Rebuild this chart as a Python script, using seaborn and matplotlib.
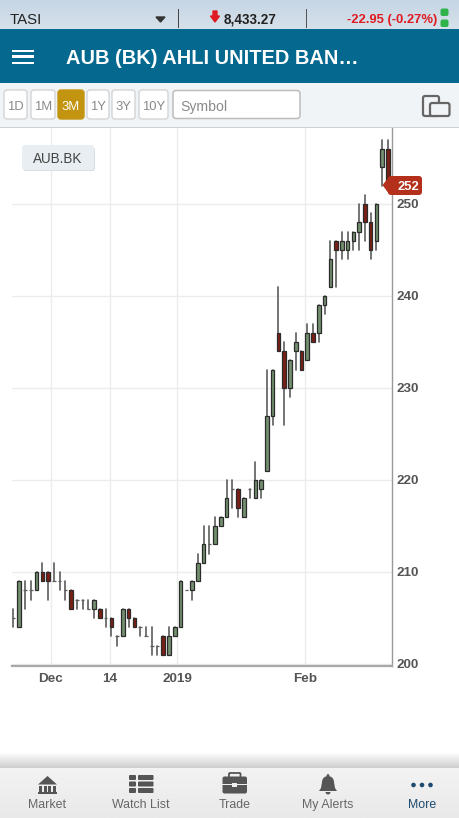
import numpy as np
import pandas as pd
import matplotlib
matplotlib.use("Agg")
import matplotlib.pyplot as plt
import seaborn as sns
from matplotlib.patches import FancyBboxPatch, Polygon, Rectangle, Circle, Wedge

# daily candles
opens = [205, 204, 208, 208, 208, 210, 210, 209, 209, 208, 208, 207, 207, 206, 206, 206, 205, 205, 203, 203,
         206, 205, 204, 203, 202, 202, 203, 201, 203, 204, 208, 208, 209, 211, 213, 213, 215, 216, 219, 219,
         216, 219, 218, 219, 221, 227, 236, 234, 230, 234, 234, 233, 236, 236, 239, 241, 246, 245, 245, 246,
         247, 250, 248, 246, 254, 256]
closes = [205, 209, 208, 208, 210, 209, 209, 209, 209, 208, 206, 207, 207, 206, 207, 205, 205, 204, 203, 206,
          205, 204, 204, 203, 202, 202, 201, 203, 204, 209, 208, 209, 211, 213, 213, 215, 216, 218, 219, 217,
          218, 219, 220, 220, 227, 232, 234, 230, 233, 235, 232, 236, 235, 239, 240, 244, 245, 246, 246, 247,
          248, 248, 245, 250, 256, 252]
highs = [206, 209, 209, 209, 210, 211, 210, 211, 210, 209, 208, 207, 207, 207, 207, 206, 206, 205, 203, 206,
         206, 205, 204, 204, 204, 202, 203, 204, 204, 209, 208, 209, 212, 215, 215, 216, 216, 220, 220, 219,
         218, 219, 222, 220, 232, 232, 241, 235, 233, 236, 234, 237, 237, 239, 240, 246, 246, 247, 247, 247,
         250, 251, 249, 250, 257, 257]
lows = [204, 204, 206, 207, 208, 209, 207, 209, 208, 207, 206, 206, 206, 206, 205, 205, 204, 203, 202, 203,
        204, 204, 203, 203, 201, 201, 201, 201, 203, 204, 208, 207, 209, 211, 212, 213, 215, 216, 217, 216,
        216, 218, 218, 218, 221, 226, 234, 226, 229, 232, 232, 233, 235, 235, 238, 241, 241, 244, 244, 245,
        245, 246, 244, 245, 252, 252]
x_ticks = [6.51, 16.75, 28.47, 50.6]
x_labels = ["Dec", "14", "2019", "Feb"]
y_ticks = [200, 210, 220, 230, 240, 250]
last_price = "252"

GREEN = "#728f6e"
RED = "#7a1f14"
EDGE = "#2b2b2b"
WICK = "#5c5c5c"
LABEL = "#555555"
W, H = 460, 818

sns.set_theme(style="whitegrid")
plt.rcParams["font.family"] = ["Liberation Sans", "DejaVu Sans"]

df = pd.DataFrame({"open": opens, "close": closes, "high": highs, "low": lows})
df["i"] = df.index

fig = plt.figure(figsize=(W / 100, H / 100), dpi=100, facecolor="white")
ax = fig.add_axes([12 / W, 1 - 666 / H, 380.5 / W, 538 / H])

# wicks, one little line per candle
wicks = df.melt(id_vars="i", value_vars=["high", "low"], value_name="price")
sns.lineplot(data=wicks, x="i", y="price", units="i", estimator=None, color=WICK,
             lw=1.2, ax=ax, zorder=2, legend=False)

heights = df["close"] - df["open"]
bottoms = df[["open", "close"]].min(axis=1)
colors = [RED if c < o else GREEN for o, c in zip(opens, closes)]
edges = [WICK if o == c else EDGE for o, c in zip(opens, closes)]
ax.bar(df["i"], heights.abs(), bottom=bottoms, width=0.62, color=colors,
       edgecolor=edges, linewidth=0.9, zorder=3)

ax.set_xlim(-0.26, 65.8)
ax.set_ylim(199.78, 258.26)
ax.set_xlabel("")
ax.set_ylabel("")
ax.set_xticks(x_ticks, x_labels)
ax.set_yticks(y_ticks)
ax.yaxis.tick_right()
ax.grid(True, color="#ececec", lw=1)
ax.set_axisbelow(True)
ax.tick_params(axis="both", length=0, labelcolor=LABEL, labelsize=9.7)
ax.tick_params(axis="y", pad=3.2)
ax.tick_params(axis="x", pad=5)
for t in ax.get_xticklabels() + ax.get_yticklabels():
    t.set_fontweight("bold")
for side in ["top", "left"]:
    ax.spines[side].set_visible(False)
ax.spines["right"].set_color("#9a9a9a")
ax.spines["right"].set_linewidth(1)
ax.spines["bottom"].set_color("#a8a8a8")
ax.spines["bottom"].set_linewidth(1.6)

# app chrome drawn in pixel coords on top of the chart
ui = fig.add_axes([0, 0, 1, 1], facecolor="none")
ui.set_xlim(0, W)
ui.set_ylim(H, 0)
ui.axis("off")


def rect(x0, y0, x1, y1, color, z=1):
    ui.add_patch(Rectangle((x0, y0), x1 - x0, y1 - y0, color=color, lw=0, zorder=z))


def rbox(x0, y0, x1, y1, fc, ec="none", r=3, lw=1, z=2):
    ui.add_patch(FancyBboxPatch((x0 + r, y0 + r), x1 - x0 - 2 * r, y1 - y0 - 2 * r,
                                boxstyle=f"round,pad={r},rounding_size={r}",
                                fc=fc, ec=ec, lw=lw, zorder=z))


def label(x, y, s, px, color, ha="center", weight="normal"):
    ui.text(x, y, s, fontsize=px * 0.72, color=color, ha=ha, va="center_baseline",
            fontweight=weight, zorder=6)


def vgrad(x0, x1, y0, y1, top, bottom, z=1):
    a = np.array(matplotlib.colors.to_rgb(top))
    b = np.array(matplotlib.colors.to_rgb(bottom))
    g = np.linspace(0, 1, 32)[:, None, None] * (b - a)[None, None, :] + a[None, None, :]
    ui.imshow(g, extent=[x0, x1, y1, y0], aspect="auto", zorder=z, interpolation="bilinear")


# top ticker strip
vgrad(0, W, 0, 29, "#c5d6e4", "#d6e1ea")
label(10, 18, "TASI", 15, "#222222", ha="left")
ui.add_patch(Polygon([[156, 17], [165, 17], [160.5, 22]], color="#333333", zorder=5))
rect(178, 9, 179.2, 28, "#444444", 5)
rect(306, 9, 307.2, 28, "#555555", 5)
ui.add_patch(Polygon([[213, 11], [217, 11], [217, 16], [219.5, 16], [215, 22], [210.5, 16], [213, 16]],
                     color="#e01a22", zorder=5))
label(224, 18, "8,433.27", 13.5, "#222222", ha="left", weight="bold")
label(347, 18, "-22.95 (-0.27%)", 13, "#e01a22", ha="left", weight="bold")
rbox(440.5, 8.5, 448.5, 16, "#2fb34a", r=2, z=5)
rbox(440.5, 19.5, 448.5, 27, "#2fb34a", r=2, z=5)

# title bar
rect(0, 29, W, 83, "#04688f", 2)
for yy in [51, 56.5, 63]:
    ui.add_patch(Rectangle((12, yy - 1.4), 22, 2.8, color="white", lw=0, zorder=5))
label(66, 56, "AUB (BK) AHLI UNITED BAN…", 20, "white", ha="left", weight="bold")

# range buttons
rect(0, 83, W, 127, "#f1f4f6", 1)
rect(0, 127, W, 128, "#cfcfcf", 1)
buttons = [("1D", 4, 27), ("1M", 31, 55), ("3M", 58, 84), ("1Y", 87, 109), ("3Y", 112, 135), ("10Y", 139, 168)]
for name, x0, x1 in buttons:
    on = name == "3M"
    rbox(x0, 90, x1, 119, "#c2940f" if on else "white", "#c2940f" if on else "#d4d4d4")
    label((x0 + x1) / 2, 105, name, 13, "white" if on else "#8a8a8a")
rbox(173, 90.5, 300, 118.5, "white", "#bdbdbd", lw=1.1)
label(180, 105, "Symbol", 14, "#8a8a8a", ha="left")
# rotate-device icon
rbox(423, 96, 439, 116, "none", "#666666", r=2, lw=1.6, z=5)
rbox(430, 103, 449.5, 116, "#f1f4f6", "#666666", r=2, lw=1.6, z=6)

# symbol chip
rbox(23, 147, 95, 171, "#d8dee2", r=3, z=3)
rbox(22, 145, 94, 170, "#e8eef1", r=3, z=4)
label(57.5, 157.5, "AUB.BK", 13.5, "#444444")

# last price tag
ui.add_patch(Polygon([[382.5, 185], [389, 177], [389, 194]], color="#b5301b", lw=0, zorder=5))
rbox(388, 176, 422, 195, "#b5301b", r=3, z=5)
label(408.5, 185.5, last_price, 13, "white", weight="bold")

# bottom nav
vgrad(0, W, 752, 768, "#ffffff", "#cfcfcf", 1)
vgrad(0, W, 768, H, "#f3f3f3", "#e9e9e9", 1)
nav_items = [("Market", 47.5), ("Watch List", 141), ("Trade", 234.5), ("My Alerts", 328), ("More", 422)]
for name, cx in nav_items:
    label(cx, 803.5, name, 12.4, "#1d4a6e" if name == "More" else "#666666")
ICON = "#555555"
# bank
ui.add_patch(Polygon([[38, 784.5], [47.5, 776], [57, 784.5]], color=ICON, lw=0, zorder=5))
for dx in [-8, -3.5, 1, 5.5]:
    rect(47.5 + dx, 785.5, 47.5 + dx + 2.6, 792, ICON, 5)
rect(38, 792, 57, 794, ICON, 5)
# watch list
for yy in [775, 781.5, 788]:
    rbox(129, yy, 136, yy + 5, ICON, r=1, z=5)
    rbox(138, yy, 153.5, yy + 5, ICON, r=1, z=5)
# briefcase
rbox(222.5, 776.5, 247, 793.5, ICON, r=2, z=5)
rbox(229, 773, 240.5, 779, "none", ICON, r=1, lw=1.3, z=5)
rect(222.5, 784, 247, 785, "#eeeeee", 6)
rect(232, 783, 237, 787, "#eeeeee", 6)
# bell
ui.add_patch(Wedge((328, 782), 6, 180, 360, color=ICON, lw=0, zorder=5))
ui.add_patch(Polygon([[322, 782], [334, 782], [335, 788], [337, 791], [319, 791], [321, 788]],
                     color=ICON, lw=0, zorder=5))
ui.add_patch(Circle((328, 775.5), 1.4, color=ICON, lw=0, zorder=5))
ui.add_patch(Wedge((328, 792), 2.5, 0, 180, color=ICON, lw=0, zorder=5))
# dots
for dx in [-8.5, 0, 8.5]:
    ui.add_patch(Circle((422 + dx, 785), 2.3, color="#1d4a6e", lw=0, zorder=5))

ui.set_xlim(0, W)
ui.set_ylim(H, 0)
fig.savefig("out.png", dpi=100)
